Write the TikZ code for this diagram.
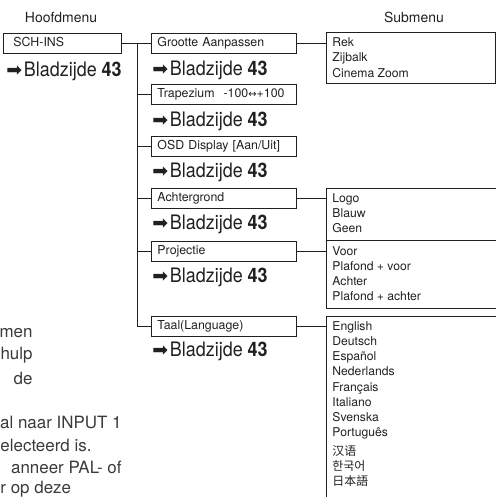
\documentclass[tikz,border=0pt]{standalone}
\usepackage{fontspec}
\setmainfont{TeX Gyre Heros}
\newfontfamily\symbfont{DejaVu Sans}
\newfontfamily\cjkfont{Noto Sans CJK SC}
\newfontfamily\bladfont[FakeStretch=0.9]{TeX Gyre Heros}
\usepackage{tikz}
\usetikzlibrary{positioning}
\definecolor{lijn}{HTML}{231F20}
\definecolor{tekstGrijs}{HTML}{3A3A3A}
\newcommand{\bladzijde}{{\symbfont\fontsize{19}{19}\selectfont ➡}\,{\bladfont\fontsize{20}{20}\selectfont Bladzijde \textbf{43}}}

\begin{document}
\begin{tikzpicture}[x=1bp, y=-1bp, line width=0.9bp, every node/.style={text=lijn},
  hoofdbox/.style={draw=lijn, rectangle, anchor=north west, align=left, text width=98bp,
    inner xsep=10bp, inner ysep=4bp, text height=9bp, text depth=3bp, font=\fontsize{12.4}{14}\selectfont},
  menubox/.style={hoofdbox, text width=133bp, inner xsep=6bp},
  subbox/.style={draw=lijn, rectangle, anchor=north west, minimum width=170bp, inner sep=0pt},
  item/.style={anchor=west, inner sep=0pt, text height=9bp, text depth=2.5bp, font=\fontsize{12.2}{14}\selectfont},
  blad/.style={anchor=west, inner sep=0pt},
  kop/.style={font=\fontsize{14}{16}\selectfont},
  rest/.style={inner sep=0pt, text=tekstGrijs, font=\fontsize{17}{19}\selectfont}]
\clip (0,0) rectangle (496,497);
% headers
\node[kop] (hoofdkop) at (61,18) {Hoofdmenu};
\node[kop] (subkop) at (414,17) {Submenu};

% main menu
\node[hoofdbox] (schins) at (3,33) {SCH-INS};
\node[blad] (b0) at (6,71) {\bladzijde};

% menu column
\node[menubox] (grootte) at (151,33) {Grootte Aanpassen};
\node[blad] (b1) at (152,70) {\bladzijde};
\node[menubox] (trapezium) at (151,84) {Trapezium\hspace{9bp}-100{\symbfont\fontsize{10}{10}\selectfont ↔}+100};
\node[blad] (b2) at (152,121) {\bladzijde};
\node[menubox] (osd) at (151,136) {OSD Display [Aan/Uit]};
\node[blad] (b3) at (152,172) {\bladzijde};
\node[menubox] (achtergrond) at (151,188) {Achtergrond};
\node[blad] (b4) at (152,224) {\bladzijde};
\node[menubox] (projectie) at (151,241) {Projectie};
\node[blad] (b5) at (152,277) {\bladzijde};
\node[menubox] (taal) at (151,316) {Taal(Language)};
\node[blad] (b6) at (152,351) {\bladzijde};

% trunk and branches
\coordinate (stam) at (137,43);
\draw[lijn] (schins.east) -- (grootte.west);
\draw[lijn] (stam) |- (taal.west);
\foreach \m in {trapezium, osd, achtergrond, projectie}{
  \draw[lijn] (stam |- \m.west) -- (\m.west);
}

% submenus
\node[subbox, minimum width=169bp, minimum height=51bp] (sub1) at (326,32) {};
\node[subbox, minimum height=52bp] (sub2) at (326,188) {};
\node[subbox, minimum height=68bp] (sub3) at (326,240) {};
\node[subbox, minimum height=220bp] (sub4) at (326,316) {};
\draw[lijn] (grootte.east) -- (sub1.west |- grootte.east);
\draw[lijn] (achtergrond.east) -- (sub2.west |- achtergrond.east);
\draw[lijn] (projectie.east) -- (sub3.west |- projectie.east);
\draw[lijn] (taal.east) -- (sub4.west |- taal.east);

\foreach \t [count=\i] in {Rek, Zijbalk, Cinema Zoom}{
  \node[item] (s1-\i) at (332, {43+15.5*(\i-1)}) {\t};
}
\foreach \t [count=\i] in {Logo, Blauw, Geen}{
  \node[item] (s2-\i) at (332, {199+15*(\i-1)}) {\t};
}
\foreach \t [count=\i] in {Voor, Plafond + voor, Achter, Plafond + achter}{
  \node[item] (s3-\i) at (332, {252+15*(\i-1)}) {\t};
}
\foreach \t [count=\i] in {English, Deutsch, Español, Nederlands, Français, Italiano, Svenska, Português}{
  \node[item] (s4-\i) at (332, {327+15.2*(\i-1)}) {\t};
}
\foreach \t [count=\i] in {汉语, 한국어, 日本語}{
  \node[item, font=\cjkfont\fontsize{12}{14}\selectfont] (cjk-\i) at (332, {452+15*(\i-1)}) {\t};
}

% cut-off page text on the left
\node[rest, anchor=east] (r1) at (33,333) {men};
\node[rest, anchor=east] (r2) at (33,355) {hulp};
\node[rest, anchor=east] (r3) at (33,378) {de};
\node[rest, anchor=east] (r4) at (122,422) {al naar INPUT 1};
\node[rest, anchor=west] (r5) at (0,445) {electeerd is.};
\node[rest, anchor=east] (r6) at (122,467) {anneer PAL- of};
\node[rest, anchor=west] (r7) at (0,489) {r op deze};
\end{tikzpicture}
\end{document}
